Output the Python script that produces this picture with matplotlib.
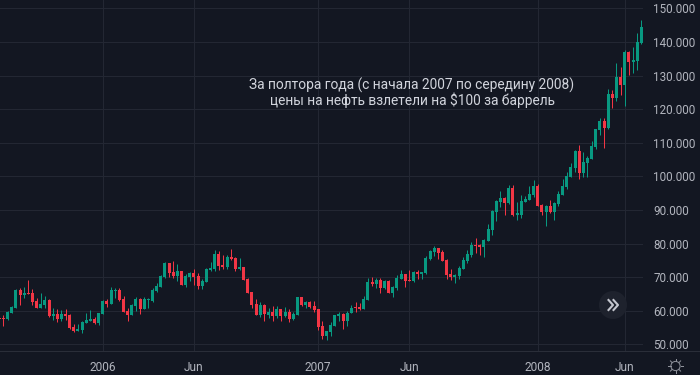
import matplotlib
matplotlib.use("Agg")
import matplotlib.pyplot as plt
import matplotlib.dates as mdates
from matplotlib.patches import Circle
from matplotlib.ticker import FuncFormatter
import numpy as np
import pandas as pd

opens = [57.74,57.94,57.54,59.42,60.91,66.17,64.68,65.28,65.28,62.90,60.91,61.71,63.19,58.43,59.03,57.54,59.03,58.73,55.16,53.97,
 54.27,56.35,56.94,57.54,56.35,59.03,62.90,62.00,65.87,66.17,63.49,59.92,58.73,61.41,63.49,60.52,63.19,62.90,65.87,67.06,
 70.04,74.20,71.53,70.34,71.82,67.66,70.04,71.23,70.34,67.36,68.55,72.12,72.42,76.88,73.61,73.01,75.99,75.69,72.42,73.01,
 69.44,65.57,62.00,58.73,61.71,58.73,59.62,58.43,60.52,58.43,59.62,57.54,58.73,64.09,61.71,62.60,61.41,60.52,55.46,52.48,
 53.67,55.46,58.43,59.03,56.94,59.21,60.99,60.99,60.40,63.08,68.43,67.84,69.03,66.65,68.73,65.16,66.65,69.32,70.81,69.03,
 68.73,71.41,70.81,71.11,75.28,77.36,78.55,77.36,74.98,70.81,69.92,70.22,72.30,74.68,76.47,79.44,79.44,78.85,80.63,83.91,
 89.26,92.24,93.43,91.94,96.41,88.37,88.61,92.48,93.08,94.56,97.24,91.59,89.50,91.29,89.50,91.88,94.56,96.94,99.92,102.60,
 107.66,101.11,104.09,105.28,108.85,113.91,116.59,114.50,124.62,123.43,129.68,127.30,137.12,134.14,134.44,139.80]
highs = [58.00,58.63,59.92,61.31,66.47,66.76,67.06,69.15,66.37,63.69,65.28,64.38,63.49,60.81,60.52,60.12,60.52,58.93,56.05,56.05,
 56.84,59.32,60.22,58.13,59.32,63.19,63.49,67.06,66.76,66.76,64.38,60.81,62.00,64.09,63.79,64.09,63.79,66.76,68.25,70.63,
 74.50,74.20,74.80,73.91,71.82,70.93,71.53,72.42,71.23,69.44,72.72,74.50,78.07,77.78,76.59,76.59,78.37,75.99,75.69,73.01,
 69.74,65.57,63.49,62.60,62.00,60.81,61.41,61.41,60.52,61.11,60.52,59.62,64.09,64.09,62.90,62.90,62.90,60.52,56.94,53.97,
 56.65,58.73,59.62,59.32,59.92,61.79,62.48,62.18,64.27,69.62,69.92,69.62,69.62,69.03,69.03,67.24,70.52,72.00,70.81,72.00,
 71.71,72.00,71.41,76.17,77.96,79.15,78.55,77.96,75.28,72.30,70.81,73.19,75.87,77.96,80.34,81.53,79.74,81.23,85.69,89.86,
 92.84,95.51,93.73,97.30,97.30,92.24,94.46,94.27,97.24,99.03,97.84,91.88,91.59,93.08,92.48,95.75,99.32,101.41,104.09,107.96,
 109.44,107.36,106.17,110.63,114.20,117.48,117.48,126.11,125.81,133.85,132.66,137.72,137.42,138.61,142.77,146.64]
lows = [57.40,55.56,57.24,59.32,60.71,61.71,63.89,65.08,61.71,60.91,60.81,60.91,58.23,57.24,56.75,56.94,57.24,54.56,53.67,53.87,
 53.37,56.35,56.94,56.05,55.75,59.03,61.11,62.00,63.79,62.90,59.62,56.94,58.73,59.92,59.03,60.52,60.81,62.70,65.67,67.06,
 69.84,70.04,69.74,68.85,67.66,67.06,68.85,67.66,66.47,66.47,68.55,71.82,71.82,72.12,72.42,72.42,75.10,71.82,72.12,69.15,
 65.28,60.81,58.73,58.13,56.94,57.84,56.94,57.84,56.94,58.13,56.65,57.24,58.73,61.41,60.81,60.81,59.62,54.27,51.59,51.29,
 52.48,55.46,56.94,54.56,55.46,59.21,59.50,60.10,60.40,63.08,67.24,66.65,65.16,66.35,65.16,63.97,66.05,69.32,66.94,68.73,
 68.43,69.32,69.32,70.81,74.98,76.17,75.28,74.68,69.32,69.03,68.13,69.32,72.30,74.09,75.87,77.06,76.47,75.87,80.63,82.42,
 86.59,90.75,88.37,91.64,88.07,86.88,87.72,92.48,93.08,93.97,91.29,88.61,85.34,89.21,87.12,91.29,94.56,96.35,99.92,101.41,
 99.32,99.92,99.92,105.28,108.25,112.42,108.55,114.20,120.45,122.54,124.32,121.05,130.28,130.87,131.76,139.50]
closes = [57.54,57.54,59.62,61.11,66.17,64.68,65.28,65.08,62.60,60.91,62.00,63.19,58.43,59.03,57.54,59.03,58.43,54.86,53.97,54.56,
 56.65,57.24,57.54,56.35,59.32,62.90,62.00,66.17,66.17,63.19,59.62,58.73,61.71,63.49,60.52,63.49,63.49,66.17,67.36,70.34,
 74.20,71.23,70.34,71.82,67.66,70.34,71.23,70.04,67.36,68.85,72.42,72.72,76.88,73.31,73.01,75.99,75.40,72.42,73.01,69.15,
 65.28,61.71,58.73,61.71,59.03,59.62,58.43,60.52,58.43,59.62,57.54,59.03,64.09,61.71,62.60,61.11,60.22,55.16,52.48,53.97,
 55.75,58.73,59.03,56.94,59.32,60.89,60.69,60.40,63.37,68.43,67.84,69.03,66.65,68.73,65.16,66.94,69.62,70.81,68.73,68.73,
 71.41,70.81,71.41,75.57,77.66,78.55,77.06,74.68,70.52,69.92,70.52,72.60,74.98,76.76,79.44,79.15,78.85,80.93,84.20,89.56,
 92.54,93.43,91.94,96.41,88.37,88.97,92.78,93.37,94.86,97.24,91.29,89.50,91.29,89.50,92.18,94.86,97.24,100.22,102.90,107.66,
 101.11,104.38,105.57,109.15,114.20,116.59,114.50,124.62,123.43,129.68,127.30,137.12,134.14,134.74,140.10,144.56]

price_ticks = [50, 60, 70, 80, 90, 100, 110, 120, 130, 140, 150]
date_ticks = ["2006-01-02", "2006-06-05", "2007-01-01", "2007-06-04", "2008-01-07", "2008-06-02"]
date_labels = ["2006", "Jun", "2007", "Jun", "2008", "Jun"]
note_lines = ["За полтора года (с начала 2007 по середину 2008)", "цены на нефть взлетели на $100 за баррель"]

BG = "#131722"; GREEN = "#089981"; RED = "#f23645"
GRID = "#232733"; TXT = "#b2b5be"; BORDER = "#2a2e39"
plt.rcParams["font.family"] = ["Roboto", "DejaVu Sans"]

o, h, l, c = map(np.array, (opens, highs, lows, closes))
dates = pd.date_range("2005-07-11", periods=len(o), freq="7D")
x = mdates.date2num(dates)
up = c >= o
cols = np.where(up, GREEN, RED)

W, H = 700, 375
PLOT_W, PLOT_BOTTOM = 643, 351.3
PX = 0.72  # one pixel, in points
fig = plt.figure(figsize=(W/100, H/100), dpi=100, facecolor=BG)
ax = fig.add_axes([0, 1 - PLOT_BOTTOM/H, PLOT_W/W, PLOT_BOTTOM/H], facecolor=BG)

px_per_day = 4.142/7
ax.set_xlim(x[0] + 0.7/px_per_day, x[0] + (PLOT_W + 0.7)/px_per_day)
ppu = 3.36
ax.set_ylim(50 - (PLOT_BOTTOM - 344.3)/ppu, 50 + 344.3/ppu)

ax.set_axisbelow(True)
ax.grid(True, color=GRID, lw=PX)
ax.vlines(x, l, h, colors=cols, lw=PX, zorder=3)
ax.bar(x, np.maximum(np.abs(c - o), 0.3), bottom=np.minimum(o, c), width=3.0/px_per_day, color=cols, lw=0, zorder=4)

ax.yaxis.tick_right()
ax.set_yticks(price_ticks)
ax.yaxis.set_major_formatter(FuncFormatter(lambda v, _: f"{v:.3f}"))
ax.set_xticks(mdates.date2num(pd.to_datetime(date_ticks)))
ax.set_xticklabels(date_labels)
ax.tick_params(axis="x", length=0, labelcolor=TXT, labelsize=8.6, pad=7)
ax.tick_params(axis="y", length=0, labelcolor=TXT, labelsize=8.4, pad=7.5)
for s in ax.spines.values():
    s.set_visible(False)

ui = fig.add_axes([0, 0, 1, 1], facecolor="none")
ui.set_xlim(0, W); ui.set_ylim(H, 0); ui.axis("off")
ui.plot([0, W], [PLOT_BOTTOM, PLOT_BOTTOM], color=BORDER, lw=PX)
ui.text(412, 85.5, note_lines[0], color="#d1d4dc", ha="center", va="center", fontsize=9.9, zorder=6)
ui.text(412, 100, note_lines[1], color="#d1d4dc", ha="center", va="center", fontsize=9.9, zorder=6)

# scroll-to-latest button
ui.add_patch(Circle((613, 305), 14, fc="#1e222d", ec="none", zorder=5))
for dx in (0, 5):
    ui.plot(np.array([608.5, 613, 608.5]) + dx, [300, 305, 310], color="#c4c6ce", lw=1.5, zorder=6)

# settings (sun) icon
ui.add_patch(Circle((675.5, 366), 4.6, fc="none", ec="#8f929b", lw=PX))
for a in np.deg2rad(np.arange(0, 360, 45)):
    ui.plot([675.5 + 5*np.cos(a), 675.5 + 7.2*np.cos(a)], [366 + 5*np.sin(a), 366 + 7.2*np.sin(a)], color="#8f929b", lw=PX)

fig.savefig("out.png", dpi=100, facecolor=BG)
